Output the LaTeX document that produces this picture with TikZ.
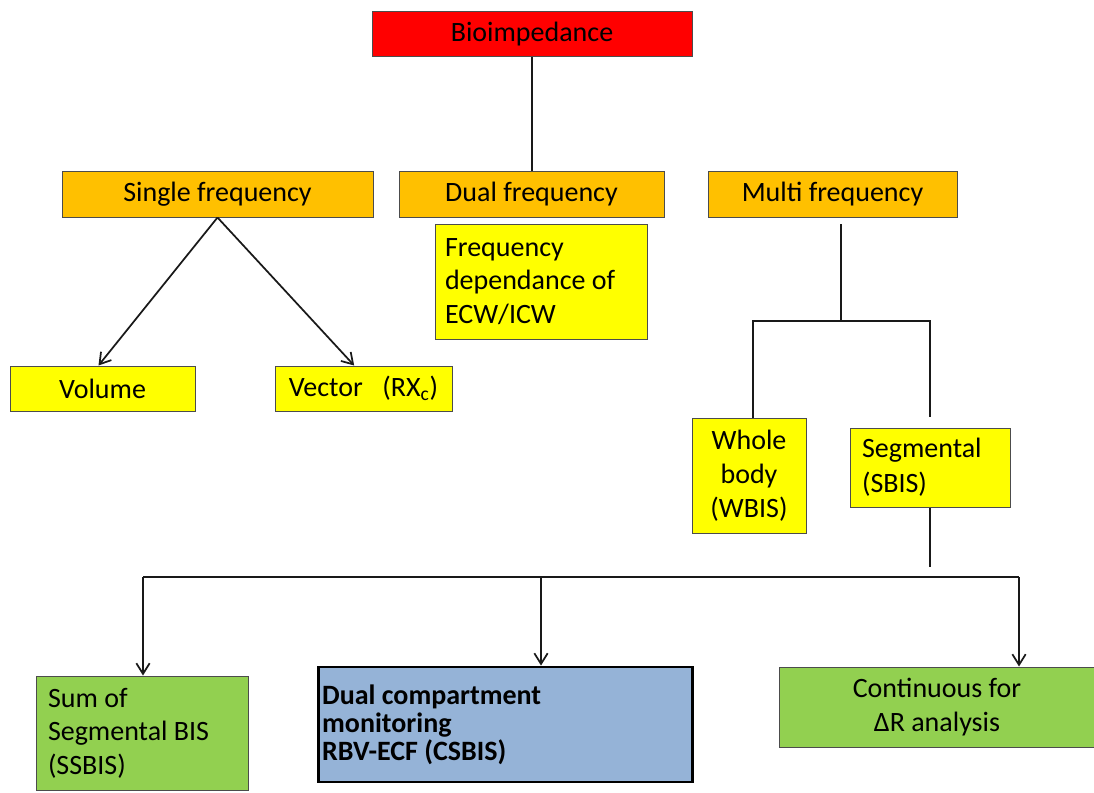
\documentclass[tikz,border=0pt]{standalone}
\usepackage{fontspec}
\setmainfont{Carlito}
\usepackage{xcolor}
\usepackage{tikz}
\usetikzlibrary{arrows.meta, positioning}
\definecolor{bioRed}{HTML}{FF0000}
\definecolor{freqOrange}{HTML}{FFC000}
\definecolor{leafYellow}{HTML}{FFFF00}
\definecolor{leafGreen}{HTML}{92D050}
\definecolor{monBlue}{HTML}{95B3D7}

\begin{document}
\begin{tikzpicture}[x=0.75pt, y=-0.75pt,
    >={Straight Barb[length=8pt, width=10pt]},
    box/.style={draw=black!70, line width=0.75pt, inner sep=0pt, minimum height=34.5pt,
        font=\fontsize{21}{25}\selectfont, execute at begin node={\spaceskip=0pt\xspaceskip=0pt\relax}},
    link/.style={draw=black!90, line width=1.3pt}]
    \useasboundingbox (0,0) rectangle (1094,792);
    % top levels
    \node[box, fill=bioRed, minimum width=240pt, minimum height=33.75pt] (bio) at (532,34.5) {Bioimpedance};
    \node[box, fill=freqOrange, minimum width=233.25pt] (single) at (217.5,194) {Single frequency};
    \node[box, fill=freqOrange, minimum width=198.75pt] (dual) at (531.5,194) {Dual frequency};
    \node[box, fill=freqOrange, minimum width=186.75pt] (multi) at (832.5,194) {Multi frequency};
    \node[box, fill=leafYellow, text width=144pt, inner xsep=7.5pt, minimum height=86.25pt, align=left] (depend) at (541,281.5) {Frequency\\dependance of\\ECW/ICW};
    \node[box, fill=leafYellow, minimum width=138.75pt, minimum height=33.75pt] (volume) at (102.5,388.5) {Volume};
    \node[box, fill=leafYellow, minimum width=132.75pt, minimum height=33.75pt] (vector) at (363.5,388.5) {Vector\hspace{0.7em}(RX\textsubscript{c})};
    \node[box, fill=leafYellow, text width=85.5pt, minimum height=86.25pt, align=flush center,
        font=\fontsize{21}{25.5}\selectfont] (whole) at (749,475.5) {Whole\\body\\(WBIS)};
    \node[box, fill=leafYellow, text width=102pt, inner xsep=9pt, minimum height=59.25pt, align=left,
        font=\fontsize{21}{26}\selectfont] (segm) at (930,467.5) {Segmental\\(SBIS)};
    % bottom level
    \node[box, fill=leafGreen, text width=141pt, inner xsep=9pt, minimum height=85.5pt, align=left] (sum) at (142,733) {Sum of\\Segmental BIS\\(SSBIS)};
    \node[box, fill=monBlue, draw=black, line width=2.2pt, text width=275pt, inner xsep=3pt, minimum height=86.25pt, align=left,
        font=\bfseries\fontsize{21}{21}\selectfont] (dualc) at (505.5,724.5) {Dual compartment\\monitoring\\RBV-ECF (CSBIS)};
    \node[box, fill=leafGreen, text width=237pt, minimum height=60pt, align=flush center,
        font=\fontsize{21}{26}\selectfont] (cont) at (937,707) {Continuous for\\ΔR analysis};

    % connectors
    \draw[link] (bio.south) -- (bio.south |- dual.north);
    \draw[link, ->] (single.south) -- ([xshift=-3pt]volume.north);
    \draw[link, ->] (single.south) -- ([xshift=-7pt]vector.north);
    \coordinate (mtop) at (841,224);
    \coordinate (mjoin) at (841,321);
    \coordinate (segtop) at (930,417);
    \draw[link] (mtop) -- (mjoin);
    \draw[link] ([xshift=3pt]whole.north) |- (mjoin) -| (segtop);
    \coordinate (sbot) at (930,567);
    \draw[link] (segm.south) -- (sbot);
    \coordinate (barl) at (143,577);
    \coordinate (barm) at (541,577);
    \coordinate (barr) at (1019,577);
    \draw[link] (barl) -- (barr);
    \draw[link, ->] (barl) -- (barl |- sum.north);
    \draw[link, ->] (barm) -- (barm |- dualc.north);
    \draw[link, ->] (barr) -- (barr |- cont.north);
\end{tikzpicture}
\end{document}
